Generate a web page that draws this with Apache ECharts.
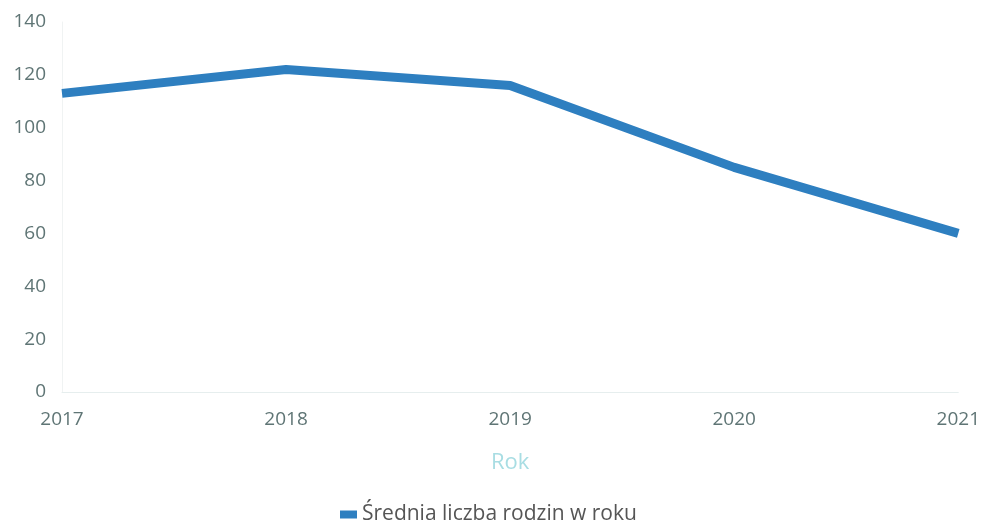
<!DOCTYPE html>
<html>
<head>
<meta charset="utf-8">
<script src="https://cdn.jsdelivr.net/npm/echarts@6/dist/echarts.min.js"></script>
<style>
html,body{margin:0;padding:0;background:#fff;}
#chart{width:983px;height:524px;}
</style>
</head>
<body>
<div id="chart"></div>
<script>
var years = ['2017', '2018', '2019', '2020', '2021'];
var avgFamilies = [113, 122, 116, 85, 60];
var seriesName = 'Średnia liczba rodzin w roku';
var xAxisName = 'Rok';

var chart = echarts.init(document.getElementById('chart'));
chart.setOption({
  animation: false,
  backgroundColor: '#ffffff',
  textStyle: { fontFamily: 'Open Sans' },
  grid: { left: 62, right: 23, top: 22, bottom: 132, containLabel: false },
  legend: {
    data: [{ name: seriesName, icon: 'rect' }],
    top: 499,
    left: 335,
    itemWidth: 17,
    itemHeight: 8,
    itemGap: 5,
    textStyle: { color: '#555', fontSize: 21, fontFamily: 'Open Sans' }
  },
  xAxis: {
    type: 'category',
    data: years,
    boundaryGap: false,
    name: xAxisName,
    nameLocation: 'middle',
    nameGap: 60,
    nameTextStyle: { color: '#a8dde3', fontSize: 22, fontFamily: 'Open Sans' },
    axisLine: { show: true, lineStyle: { color: '#e6eeee', width: 1 } },
    axisTick: { show: false },
    axisLabel: { color: '#5f7575', fontSize: 19, margin: 18, fontFamily: 'Open Sans' },
    splitLine: { show: false }
  },
  yAxis: {
    type: 'value',
    min: 0,
    max: 140,
    interval: 20,
    axisLine: { show: true, lineStyle: { color: '#f0f3f3', width: 1 } },
    axisTick: { show: false },
    axisLabel: { color: '#5f7575', fontSize: 19, margin: 16, fontFamily: 'Open Sans' },
    splitLine: { show: false }
  },
  series: [{
    name: seriesName,
    type: 'line',
    data: avgFamilies,
    symbol: 'none',
    lineStyle: { color: '#2e7fc0', width: 9, cap: 'butt', join: 'round' },
    itemStyle: { color: '#2e7fc0' }
  }]
});
</script>
</body>
</html>
